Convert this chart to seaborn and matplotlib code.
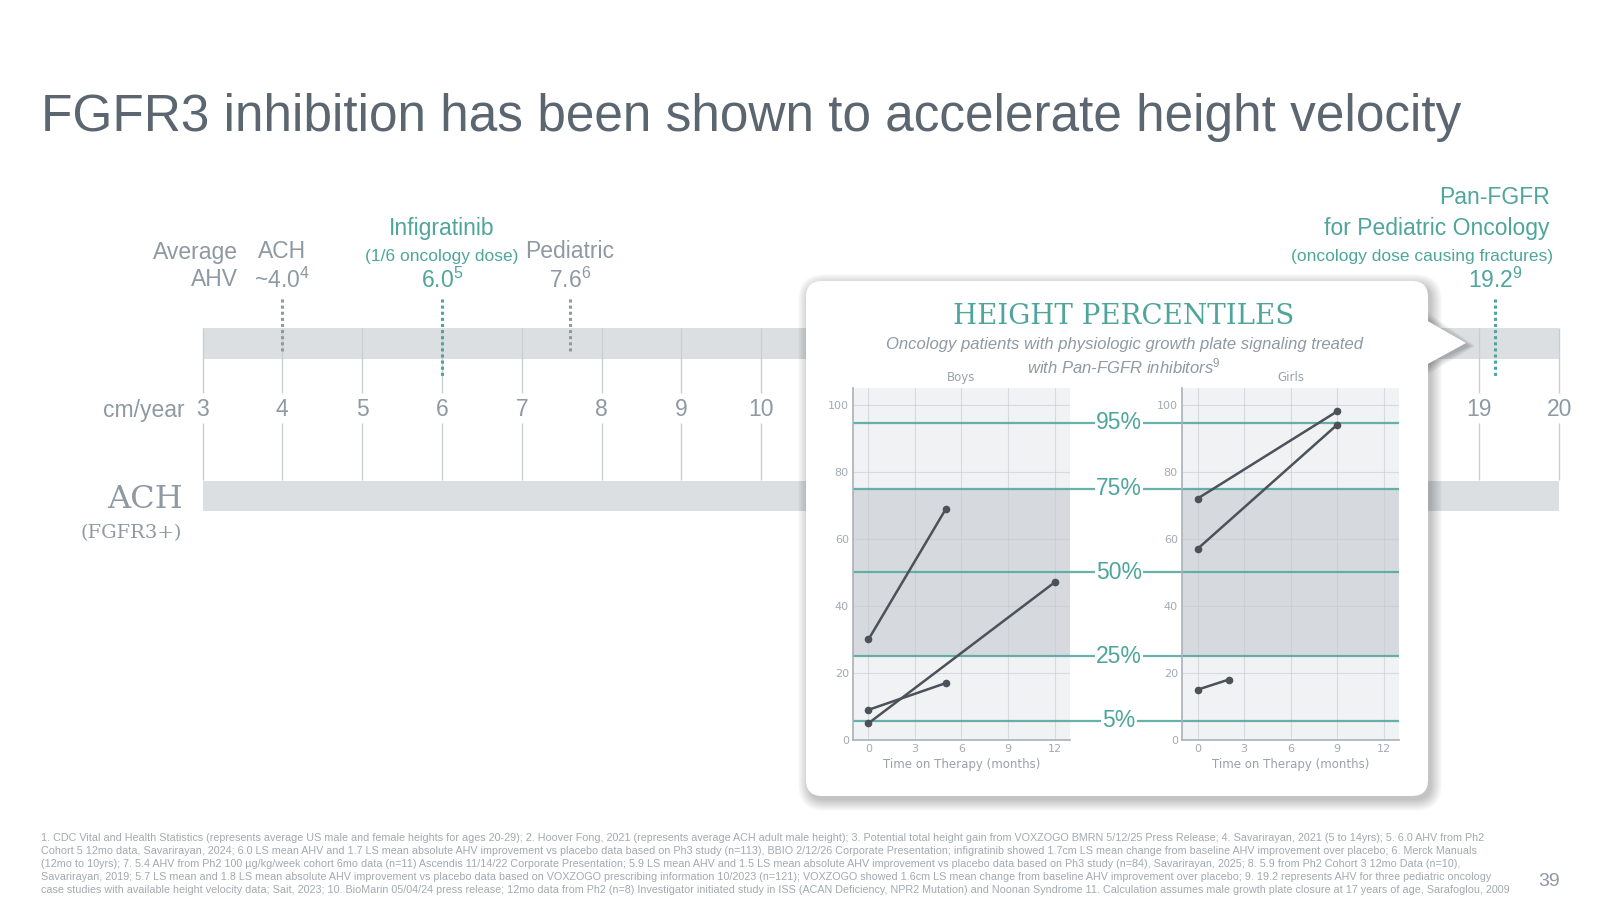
import numpy as np
import pandas as pd
import matplotlib
matplotlib.use("Agg")
import matplotlib.pyplot as plt
import matplotlib.transforms as mtransforms
from matplotlib.patches import Rectangle, FancyBboxPatch, Polygon
import seaborn as sns

# ---------------- data ----------------
title = "FGFR3 inhibition has been shown to accelerate height velocity"

scale_ticks = list(range(3, 21))          # cm/year axis
ach_ahv = 4.0
infig_ahv = 6.0
pediatric_ahv = 7.6
panfgfr_ahv = 19.2

# height percentile panels
boys_patient = ["B1", "B1", "B2", "B2", "B3", "B3"]
boys_month = [0, 5, 0, 5, 0, 12]
boys_pct = [30, 69, 9, 17, 5, 47]

girls_patient = ["G1", "G1", "G2", "G2", "G3", "G3"]
girls_month = [0, 9, 0, 9, 0, 2]
girls_pct = [72, 98, 57, 94, 15, 18]

pct_levels = [5.8, 25, 50, 75, 94.7]
pct_labels = ["5%", "25%", "50%", "75%", "95%"]
month_ticks = [0, 3, 6, 9, 12]
pct_ticks = [0, 20, 40, 60, 80, 100]

footnotes = [
    "1. CDC Vital and Health Statistics (represents average US male and female heights for ages 20-29); 2. Hoover Fong, 2021 (represents average ACH adult male height); 3. Potential total height gain from VOXZOGO BMRN 5/12/25 Press Release; 4. Savarirayan, 2021 (5 to 14yrs); 5. 6.0 AHV from Ph2",
    "Cohort 5 12mo data, Savarirayan, 2024; 6.0 LS mean AHV and 1.7 LS mean absolute AHV improvement vs placebo data based on Ph3 study (n=113), BBIO 2/12/26 Corporate Presentation; infigratinib showed 1.7cm LS mean change from baseline AHV improvement over placebo; 6. Merck Manuals",
    "(12mo to 10yrs); 7. 5.4 AHV from Ph2 100 \u00b5g/kg/week cohort 6mo data (n=11) Ascendis 11/14/22 Corporate Presentation; 5.9 LS mean AHV and 1.5 LS mean absolute AHV improvement vs placebo data based on Ph3 study (n=84), Savarirayan, 2025; 8. 5.9 from Ph2 Cohort 3 12mo Data (n=10),",
    "Savarirayan, 2019; 5.7 LS mean and 1.8 LS mean absolute AHV improvement vs placebo data based on VOXZOGO prescribing information 10/2023 (n=121); VOXZOGO showed 1.6cm LS mean change from baseline AHV improvement over placebo; 9. 19.2 represents AHV for three pediatric oncology",
    "case studies with available height velocity data; Sait, 2023; 10. BioMarin 05/04/24 press release; 12mo data from Ph2 (n=8) Investigator initiated study in ISS (ACAN Deficiency, NPR2 Mutation) and Noonan Syndrome 11. Calculation assumes male growth plate closure at 17 years of age, Sarafoglou, 2009",
]

# ---------------- style ----------------
SLATE = "#5b6670"
GRAY = "#8f99a3"
TEAL = "#4ea59c"
BAND = "#dcdfe2"
TICKLINE = "#c9ced3"
DARK = "#4b525a"

sns.set_style("white")
plt.rcParams["font.family"] = ["Liberation Sans", "DejaVu Sans"]
plt.rcParams["mathtext.fontset"] = "custom"
plt.rcParams["mathtext.rm"] = "Liberation Sans"
plt.rcParams["mathtext.it"] = "Liberation Sans:italic"

W, H = 1600, 900
fig = plt.figure(figsize=(16, 9), dpi=100)
# pixel coordinates (y pointing down) -> figure
pxT = mtransforms.Affine2D().scale(1 / W, -1 / H).translate(0, 1) + fig.transFigure

# timeline axes covering the whole slide: x in cm/year, y in pixels
x0_px, unit_px = 202.5, 79.8
def px2v(p):
    return 3 + (p - x0_px) / unit_px
def v2px(v):
    return x0_px + (v - 3) * unit_px

# callout box geometry (pixels)
bx, by, bw, bh, rad = 806, 281, 622, 515, 16
tip_x = 1466

ax = fig.add_axes([0, 0, 1, 1])
ax.set_xlim(px2v(0), px2v(W))
ax.set_ylim(H, 0)
ax.axis("off")
ax.set_zorder(0)

ax.add_patch(Rectangle((scale_ticks[0], 328), scale_ticks[-1] - scale_ticks[0], 30.5,
                       color=BAND, lw=0, zorder=1))
ax.add_patch(Rectangle((scale_ticks[0], 481), scale_ticks[-1] - scale_ticks[0], 29.5,
                       color=BAND, lw=0, zorder=1))
ax.vlines(scale_ticks, 328, 393, color=TICKLINE, lw=1, zorder=2)
ax.vlines(scale_ticks, 423, 480, color=TICKLINE, lw=1, zorder=2)
for t in scale_ticks:
    if bx - 20 < v2px(t) < tip_x:
        continue  # hidden behind the callout
    ax.text(t, 410, str(t), ha="center", va="center", fontsize=16.5, color=GRAY, zorder=2)
ax.text(px2v(185), 410, "cm/year", ha="right", va="center", fontsize=16.5, color=GRAY)

dots = (0, (1, 1))
ax.vlines([ach_ahv, pediatric_ahv], 299, 353, color=GRAY, lw=2.2, linestyles=dots, zorder=3)
ax.vlines([infig_ahv, panfgfr_ahv], 299, 377, color=TEAL, lw=2.2, linestyles=dots, zorder=3)

big = 16.5
small = 12.5
ax.text(px2v(238), 252, "Average", ha="right", va="center", fontsize=big, color=GRAY)
ax.text(px2v(238), 280, "AHV", ha="right", va="center", fontsize=big, color=GRAY)
ax.text(ach_ahv, 252, "ACH", ha="center", va="center", fontsize=big, color=GRAY)
ax.text(ach_ahv, 280, f"~{ach_ahv:.1f}$^{{4}}$", ha="center", va="center", fontsize=big, color=GRAY)
ax.text(infig_ahv, 229, "Infigratinib", ha="center", va="center", fontsize=big, color=TEAL)
ax.text(infig_ahv, 256, "(1/6 oncology dose)", ha="center", va="center", fontsize=small, color=TEAL)
ax.text(infig_ahv, 280, f"{infig_ahv:.1f}$^{{5}}$", ha="center", va="center", fontsize=big, color=TEAL)
ax.text(pediatric_ahv, 252, "Pediatric", ha="center", va="center", fontsize=big, color=GRAY)
ax.text(pediatric_ahv, 280, f"{pediatric_ahv:.1f}$^{{6}}$", ha="center", va="center", fontsize=big, color=GRAY)
ax.text(px2v(1550), 198, "Pan-FGFR", ha="right", va="center", fontsize=big, color=TEAL)
ax.text(px2v(1550), 229, "for Pediatric Oncology", ha="right", va="center", fontsize=big, color=TEAL)
ax.text(px2v(1553), 256, "(oncology dose causing fractures)", ha="right", va="center", fontsize=small, color=TEAL)
ax.text(panfgfr_ahv, 280, f"{panfgfr_ahv:.1f}$^{{9}}$", ha="center", va="center", fontsize=big, color=TEAL)

ax.text(px2v(145), 499, "ACH", ha="center", va="center", fontsize=23, color=GRAY, family="DejaVu Serif")
ax.text(px2v(131), 533, "(FGFR3+)", ha="center", va="center", fontsize=14, color=GRAY, family="DejaVu Serif")

# callout box with soft shadow and pointer
for i in range(12):
    ax.add_patch(FancyBboxPatch((bx + 3 - i, by + 4 - i), bw + 2 * i, bh + 2 * i,
                                boxstyle=f"round,pad=0,rounding_size={rad + i}",
                                fc="black", ec="none", alpha=0.02, transform=pxT, zorder=9))
    ax.add_patch(Polygon([(bx + bw - 10, 316 - i), (tip_x + 3 + i * 0.6, 346), (bx + bw - 10, 370 + i)],
                         closed=True, fc="black", ec="none", alpha=0.018, transform=pxT, zorder=9))
ax.add_patch(FancyBboxPatch((bx, by), bw, bh, boxstyle=f"round,pad=0,rounding_size={rad}",
                            fc="white", ec="none", transform=pxT, zorder=10))
ax.add_patch(Polygon([(bx + bw - 2, 320), (tip_x, 343), (bx + bw - 2, 365)], closed=True,
                     fc="white", ec="none", transform=pxT, zorder=10))

fig.text(1124, 317, "HEIGHT PERCENTILES", transform=pxT, ha="center", va="center",
         fontsize=20, color=TEAL, family="DejaVu Serif")
fig.text(1124, 345, "Oncology patients with physiologic growth plate signaling treated",
         transform=pxT, ha="center", va="center", fontsize=12, color=GRAY, style="italic")
fig.text(1124, 366, "with Pan-FGFR inhibitors$^{9}$", transform=pxT, ha="center", va="center",
         fontsize=12, color=GRAY, style="italic")

# ---------------- percentile panels ----------------
top_px, bot_px = 388, 740
def panel_rect(left, right):
    return [left / W, 1 - bot_px / H, (right - left) / W, (bot_px - top_px) / H]

ax_mid = fig.add_axes(panel_rect(853, 1399))
ax_mid.set_zorder(1)
ax_mid.patch.set_alpha(0)
ax_mid.set_xlim(0, 1)
ax_mid.set_ylim(0, 105)
ax_mid.axis("off")
for lvl, lab in zip(pct_levels, pct_labels):
    ax_mid.axhline(lvl, color=TEAL, lw=1.6, alpha=0.85)
    ax_mid.text(0.487, lvl, lab, ha="center", va="center", fontsize=16.5, color=TEAL,
                bbox=dict(fc="white", ec="none", pad=1.0))

boys = pd.DataFrame({"patient": boys_patient, "month": boys_month, "pct": boys_pct})
girls = pd.DataFrame({"patient": girls_patient, "month": girls_month, "pct": girls_pct})

def draw_panel(rect, df, name):
    a = fig.add_axes(rect)
    a.set_zorder(2)
    a.set_facecolor("#f1f2f4")
    a.axhspan(25, 75, color="#d6dade", lw=0, zorder=0.2)
    for v in month_ticks:
        a.axvline(v, color="#c3c8ce", lw=0.8, alpha=0.55, zorder=0.3)
    for v in pct_ticks:
        a.axhline(v, color="#c3c8ce", lw=0.8, alpha=0.55, zorder=0.3)
    for lvl in pct_levels:
        a.axhline(lvl, color=TEAL, lw=1.6, alpha=0.85, zorder=1)
    sns.lineplot(data=df, x="month", y="pct", units="patient", estimator=None,
                 color=DARK, lw=1.8, marker="o", markersize=5.5, markeredgewidth=0,
                 legend=False, ax=a, zorder=3)
    a.set_xlim(-1, 13)
    a.set_ylim(0, 105)
    a.set_xticks(month_ticks)
    a.set_yticks(pct_ticks)
    a.tick_params(length=0, pad=3, labelsize=8, labelcolor="#a3aab1")
    for lbl in a.get_xticklabels() + a.get_yticklabels():
        lbl.set_fontfamily("DejaVu Sans")
    for s in ["top", "right"]:
        a.spines[s].set_visible(False)
    for s in ["left", "bottom"]:
        a.spines[s].set_color("#aab1b8")
        a.spines[s].set_linewidth(1.2)
    a.set_ylabel("")
    a.set_xlabel("Time on Therapy (months)", fontsize=8.5, color="#9aa1a8",
                 family="DejaVu Sans", labelpad=3)
    a.set_title(name, fontsize=8.5, color="#9aa1a8", family="DejaVu Sans", pad=5)
    return a

draw_panel(panel_rect(853, 1070), boys, "Boys")
draw_panel(panel_rect(1182, 1399), girls, "Girls")

# ---------------- title & footnotes ----------------
fig.text(41, 117, title, transform=pxT, ha="left", va="center", fontsize=37, color=SLATE)
for i, line in enumerate(footnotes):
    fig.text(41, 838 + i * 13.06, line, transform=pxT, ha="left", va="center",
             fontsize=7.75, color="#a3a9af")
fig.text(1549, 882, "39", transform=pxT, ha="center", va="center", fontsize=14, color=GRAY)

fig.savefig("out.png", dpi=100)
